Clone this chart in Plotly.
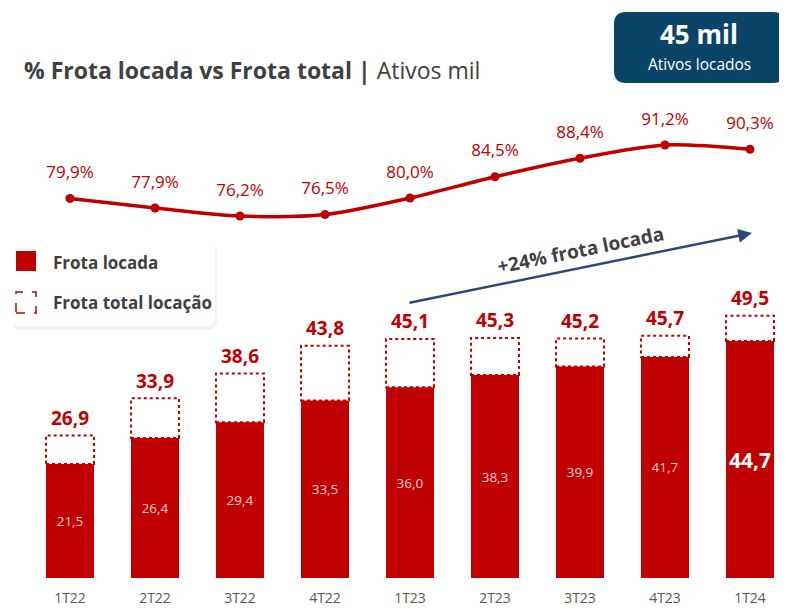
import plotly.graph_objects as go

categories = ["1T22", "2T22", "3T22", "4T22", "1T23", "2T23", "3T23", "4T23", "1T24"]
frota_locada = [21.5, 26.4, 29.4, 33.5, 36.0, 38.3, 39.9, 41.7, 44.7]
frota_total = [26.9, 33.9, 38.6, 43.8, 45.1, 45.3, 45.2, 45.7, 49.5]
pct_locada = [79.9, 77.9, 76.2, 76.5, 80.0, 84.5, 88.4, 91.2, 90.3]

RED = "#c00000"
NAVY = "#0a4466"
GRAY = "#404040"
FONT = "Open Sans"

# page body adds an 8px offset; work in reference pixel coordinates
OX, OY = 8, 8
W, H = 787 - OX, 612 - OY
MT, MB = 0, 34
PH = H - MT - MB


def px(x):
    return (x - OX) / W


def py(y):
    return (H - MB - (y - OY)) / PH


def fmt(v, suffix=""):
    return f"{v:.1f}".replace(".", ",") + suffix


x = list(range(len(categories)))
bw = 0.565
n = len(categories)

fig = go.Figure()

# filled bars
fig.add_trace(go.Bar(
    x=x, y=frota_locada, width=bw,
    marker=dict(color=RED, line=dict(width=0)),
    text=[fmt(v) if i < n - 1 else "<b>" + fmt(v) + "</b>" for i, v in enumerate(frota_locada)],
    textposition="inside", insidetextanchor="middle",
    textfont=dict(color=["#f6d0d0"] * (n - 1) + ["white"],
                  size=[13.5] * (n - 1) + [25], family=FONT),
    textangle=0,
    hoverinfo="skip", showlegend=False, yaxis="y",
))

# total labels
fig.add_trace(go.Scatter(
    x=x, y=frota_total, mode="markers+text",
    marker=dict(size=8, opacity=0),
    text=["<b>" + fmt(v) + "</b>" for v in frota_total],
    textposition="top center",
    textfont=dict(color=RED, size=19, family=FONT),
    hoverinfo="skip", showlegend=False, yaxis="y", cliponaxis=False,
))

# line
fig.add_trace(go.Scatter(
    x=x, y=pct_locada, mode="lines+markers",
    line=dict(color=RED, width=3.5, shape="spline", smoothing=0.8),
    marker=dict(color=RED, size=9),
    hoverinfo="skip", showlegend=False, yaxis="y2", cliponaxis=False,
))
# line labels
fig.add_trace(go.Scatter(
    x=x, y=pct_locada, mode="markers+text",
    marker=dict(size=24, opacity=0),
    text=[fmt(v, "%") for v in pct_locada],
    textposition="top center",
    textfont=dict(color=RED, size=17, family=FONT),
    hoverinfo="skip", showlegend=False, yaxis="y2", cliponaxis=False,
))

shapes = []
# dotted boxes for totals
for i, (lo, tot) in enumerate(zip(frota_locada, frota_total)):
    shapes.append(dict(type="rect", xref="x", yref="y",
                       x0=i - bw / 2, x1=i + bw / 2, y0=lo, y1=tot,
                       line=dict(color=RED, width=2, dash="dot"),
                       fillcolor="rgba(0,0,0,0)", layer="below"))


def rrect(x0, y0, x1, y1, r):
    P = lambda a, b: f"{px(a):.5f},{py(b):.5f}"
    return (f"M{P(x0 + r, y0)} L{P(x1 - r, y0)} Q{P(x1, y0)} {P(x1, y0 + r)} "
            f"L{P(x1, y1 - r)} Q{P(x1, y1)} {P(x1 - r, y1)} "
            f"L{P(x0 + r, y1)} Q{P(x0, y1)} {P(x0, y1 - r)} "
            f"L{P(x0, y0 + r)} Q{P(x0, y0)} {P(x0 + r, y0)} Z")


# legend box with soft shadow
shapes.append(dict(type="path", xref="paper", yref="paper",
                   path=rrect(12, 243, 217, 330, 9),
                   fillcolor="rgba(0,0,0,0.05)", line=dict(width=0), layer="above"))
shapes.append(dict(type="path", xref="paper", yref="paper",
                   path=rrect(11, 240, 215, 326, 8),
                   fillcolor="white", line=dict(width=0), layer="above"))
shapes.append(dict(type="rect", xref="paper", yref="paper",
                   x0=px(16), x1=px(36), y0=py(271), y1=py(251),
                   fillcolor=RED, line=dict(width=0), layer="above"))
shapes.append(dict(type="rect", xref="paper", yref="paper",
                   x0=px(16), x1=px(36), y0=py(313), y1=py(292),
                   fillcolor="white", line=dict(color=RED, width=1.5, dash="dash"), layer="above"))

# navy box
shapes.append(dict(type="path", xref="paper", yref="paper",
                   path=rrect(614, 12, 785, 83, 12),
                   fillcolor=NAVY, line=dict(width=0), layer="above"))

annotations = [
    dict(xref="paper", yref="paper", x=px(22), y=py(70), xanchor="left", yanchor="middle",
         text="<b>% Frota locada vs Frota total |</b> Ativos mil", showarrow=False,
         font=dict(size=23, color=GRAY, family=FONT)),
    dict(xref="paper", yref="paper", x=px(51), y=py(263), xanchor="left", yanchor="middle",
         text="<b>Frota locada</b>", showarrow=False,
         font=dict(size=17, color=GRAY, family=FONT)),
    dict(xref="paper", yref="paper", x=px(51), y=py(302), xanchor="left", yanchor="middle",
         text="<b>Frota total locação</b>", showarrow=False,
         font=dict(size=17, color=GRAY, family=FONT)),
    dict(xref="paper", yref="paper", x=px(699), y=py(34), xanchor="center", yanchor="middle",
         text="<b>45 mil</b>", showarrow=False, borderpad=0,
         font=dict(size=26, color="white", family=FONT)),
    dict(xref="paper", yref="paper", x=px(699), y=py(64), xanchor="center", yanchor="middle",
         text="Ativos locados", showarrow=False, borderpad=0,
         font=dict(size=15.5, color="white", family=FONT)),
    dict(xref="paper", yref="paper", axref="pixel", ayref="pixel",
         x=px(752), y=py(233), ax=-(752 - 408), ay=(303 - 233),
         text="", showarrow=True, arrowhead=2, arrowsize=1.1, arrowwidth=2.5,
         arrowcolor="#2c4a78"),
    dict(xref="paper", yref="paper", x=px(580), y=py(250), xanchor="center", yanchor="middle",
         text="<b>+24% frota locada</b>", showarrow=False, textangle=-11.5,
         font=dict(size=19, color=GRAY, family=FONT)),
]

ppu_bar = 5.3
ppu_line = 71 / 15.0
y2_lo = 76.2 - (H - MB - (216 - OY)) / ppu_line
x0_rng = -(70 - OX) / 85

fig.update_layout(
    width=W, height=H,
    margin=dict(l=0, r=0, t=MT, b=MB),
    paper_bgcolor="white", plot_bgcolor="white",
    font=dict(family=FONT),
    barmode="overlay",
    xaxis=dict(range=[x0_rng, x0_rng + W / 85], tickvals=x, ticktext=categories,
               showgrid=False, zeroline=False, showline=False, ticks="",
               tickfont=dict(size=14, color="#595959", family=FONT),
               ticklabelstandoff=10, fixedrange=True),
    yaxis=dict(range=[0, PH / ppu_bar], visible=False, fixedrange=True),
    yaxis2=dict(range=[y2_lo, y2_lo + PH / ppu_line], overlaying="y", visible=False,
                fixedrange=True),
    shapes=shapes,
    annotations=annotations,
    showlegend=False,
)

fig.write_html("out.html")
